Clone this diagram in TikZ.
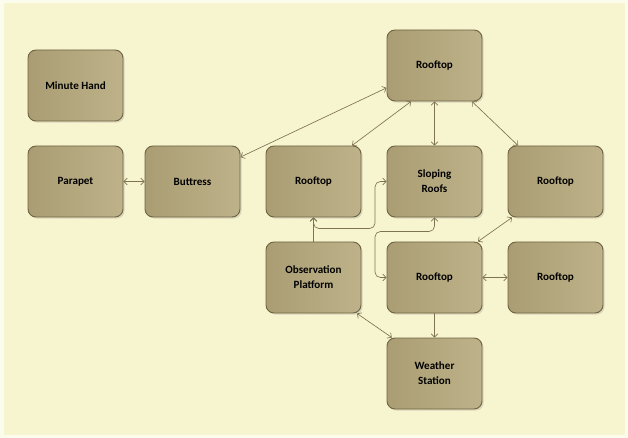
\documentclass[tikz,border=0pt]{standalone}
\usepackage{fontspec}
\setmainfont{Carlito}
\usetikzlibrary{arrows.meta,shadows}

\definecolor{bgyellow}{RGB}{247,245,208}
\definecolor{bgframe}{RGB}{252,252,236}
\definecolor{boxdark}{RGB}{170,157,115}
\definecolor{boxlight}{RGB}{190,178,138}
\definecolor{boxline}{RGB}{112,100,66}
\definecolor{linkcol}{RGB}{128,116,80}

\begin{document}
\begin{tikzpicture}
        [x=0.75pt,y=-0.75pt,every node/.style={draw=boxline,line width=0.7pt,rounded corners=6pt,left color=boxdark,right color=boxlight,minimum width=71.25pt,minimum height=53.25pt,align=center,inner sep=2pt,font=\fontsize{8.3}{11.4}\selectfont\bfseries,drop shadow={shadow xshift=1.2pt,shadow yshift=-1.2pt,opacity=0.25}},
         conn/.style={draw=linkcol,line width=0.5pt,{Straight Barb[length=2.5pt,width=5pt]}-{Straight Barb[length=2.5pt,width=5pt]}},
         connto/.style={draw=linkcol,line width=0.5pt,-{Straight Barb[length=2.5pt,width=5pt]}}]

        \useasboundingbox (0,0) rectangle (628,438);
        \path[fill=bgyellow,draw=bgframe,line width=3pt] (1.5,1.5) rectangle (626.5,436.5);

        \node (v1) at (75.5, 85.5) {Minute Hand};
        \node (v2) at (75.5, 181.5) {Parapet};
        \node (v3) at (192.5, 181.5) {Buttress};
        \node (v4) at (434.5, 65.5) {Rooftop};
        \node (v5) at (313.5, 181.5) {Rooftop};
        \node (v6) at (434.5, 181.5) {Sloping\\Roofs};
        \node (v7) at (555.5, 181.5) {Rooftop};
        \node (v8) at (313.5, 277.5) {Observation\\Platform};
        \node (v9) at (434.5, 277.5) {Rooftop};
        \node (v10) at (555.5, 277.5) {Rooftop};
        \node (v11) at (434.5, 373.5) {Weather\\Station};

        \draw[conn] (v2) -- (v3);
        \draw[conn] (v4.205) -- (v3.27);
        \draw[conn] ([xshift=-17.6pt]v4.south) -- ([xshift=28.9pt]v5.north);
        \draw[conn] (v4) -- (v6);
        \draw[conn] ([xshift=28.1pt]v4.south) -- ([xshift=-28.1pt]v7.north);
        \draw[connto] (v8) -- (v5);
        \draw[conn,rounded corners=4pt] (v5.south) -- (313.5,228.5) -- (375,228.5) -- (375,181.5) -- (v6.west);
        \draw[conn,rounded corners=4pt] (v6.south) -- (434.5,231.5) -- (375,231.5) -- (375,277.5) -- (v9.west);
        \draw[conn] ([xshift=-32.6pt]v7.south) -- ([xshift=32.6pt]v9.north);
        \draw[conn] (v9) -- (v10);
        \draw[connto] (v9) -- (v11);
        \draw[conn] ([xshift=32.6pt]v8.south) -- ([xshift=-32pt]v11.north);

      \end{tikzpicture}
\end{document}
